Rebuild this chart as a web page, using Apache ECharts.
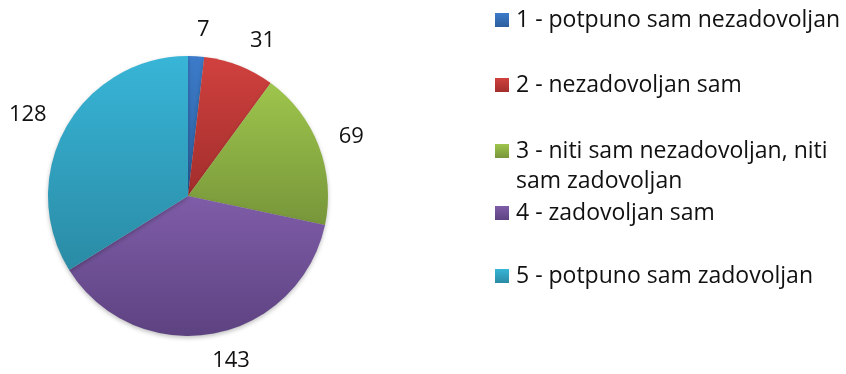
<!DOCTYPE html>
<html>
<head>
<meta charset="utf-8">
<script src="https://cdn.jsdelivr.net/npm/echarts@6/dist/echarts.min.js"></script>
<style>
  html, body { margin: 0; padding: 0; background: #ffffff; }
  #chart { width: 846px; height: 374px; }
</style>
</head>
<body>
<div id="chart"></div>
<script>
// Satisfaction ratings (1–5) and how many respondents chose each
const categories = [
  '1 - potpuno sam nezadovoljan',
  '2 - nezadovoljan sam',
  '3 - niti sam nezadovoljan, niti\nsam zadovoljan',
  '4 - zadovoljan sam',
  '5 - potpuno sam zadovoljan'
];
const counts = [7, 31, 69, 143, 128];

// top / bottom shade of each slice's vertical gradient
const topColors = ['#3C7BCA', '#D0413E', '#9EC54C', '#7F5DA8', '#38B5D7'];
const bottomColors = ['#2C5E9D', '#A22E2C', '#77963A', '#5D4281', '#2A8BA5'];

const FONT = '"Open Sans", Lato, sans-serif';
const LABEL_SIZE = 22;
const LEGEND_SIZE = 23;
const LINE = 30;       // legend line height
const SWATCH = 14;     // legend square size

function shade(i, span) {
  return new echarts.graphic.LinearGradient(0, 0, 0, span || 1, [
    { offset: 0, color: topColors[i] },
    { offset: 1, color: bottomColors[i] }
  ]);
}

const pieData = categories.map((name, i) => ({
  name: name,
  value: counts[i],
  itemStyle: { color: shade(i) }
}));

// One legend block per category so the rows keep their own spacing.
// A wrapped entry gets a taller icon box whose square sits at the top,
// so the square lines up with the first text line.
const legendRowCentres = [20, 85, 151, 213, 276];
const legends = categories.map((name, i) => {
  const lines = name.split('\n').length;
  const boxH = SWATCH + (lines - 1) * LINE;
  const legend = {
    data: [{ name: name }],
    orient: 'vertical',
    left: 495,
    top: legendRowCentres[i] - LINE / 2,
    padding: 0,
    itemWidth: SWATCH,
    itemHeight: boxH,
    itemGap: 0,
    selectedMode: false,
    icon: 'rect',
    itemStyle: { borderWidth: 0 },
    textStyle: {
      fontFamily: FONT,
      fontSize: LEGEND_SIZE,
      color: '#111111',
      lineHeight: LINE,
      padding: [0, 0, 0, 2]
    }
  };
  if (lines > 1) {
    const k = boxH / SWATCH;
    legend.data[0].icon = 'path://M0,0L1,0L1,1L0,1Z M0,' + k + 'L0.001,' + k + 'Z';
    legend.data[0].itemStyle = { color: shade(i, 1 / k), borderWidth: 0 };
    legend.top = legendRowCentres[i] - SWATCH / 2 - (LINE - SWATCH) / 2;
  }
  return legend;
});

// Place each value label just outside its slice, pushed away from the
// pie along the slice's mid direction (near-vertical labels are centred).
const total = counts.reduce((a, b) => a + b, 0);
function midDirection(idx) {
  let before = 0;
  for (let j = 0; j < idx; j++) before += counts[j];
  const a = (before + counts[idx] / 2) / total * 2 * Math.PI;
  return { x: Math.sin(a), y: -Math.cos(a) };
}

const chart = echarts.init(document.getElementById('chart'), null, { renderer: 'canvas' });
chart.setOption({
  animation: false,
  backgroundColor: '#ffffff',
  legend: legends,
  series: [{
    type: 'pie',
    center: [188, 196],
    radius: 140,
    startAngle: 90,
    clockwise: true,
    avoidLabelOverlap: false,
    data: pieData,
    itemStyle: {
      borderWidth: 0,
      shadowBlur: 4,
      shadowOffsetY: 2,
      shadowColor: 'rgba(0,0,0,0.25)'
    },
    emphasis: { disabled: true },
    label: {
      show: true,
      position: 'outside',
      formatter: '{c}',
      fontFamily: FONT,
      fontSize: LABEL_SIZE,
      color: '#111111'
    },
    labelLine: { show: false, length: 16, length2: 0 },
    labelLayout: function (params) {
      const u = midDirection(params.dataIndex);
      const r = params.labelRect;
      const ax = Math.abs(u.x);
      const dx = ax < 0.3 ? -Math.sign(u.x) * r.width / 2 * (1 - ax / 0.3) : 0;
      return { dx: dx, dy: u.y * r.height / 2 };
    }
  }]
});
</script>
</body>
</html>
